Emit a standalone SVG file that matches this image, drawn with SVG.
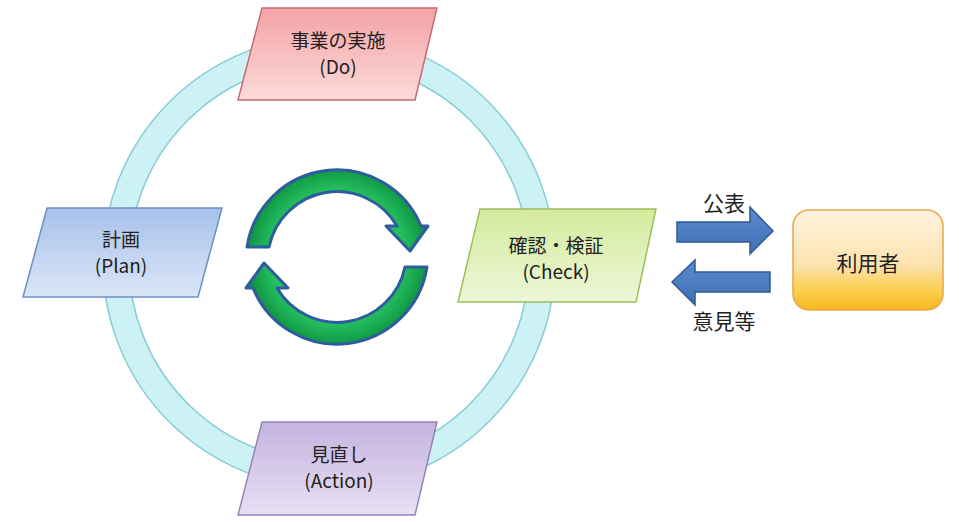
<svg xmlns="http://www.w3.org/2000/svg" width="959" height="522" viewBox="0 0 959 522">
<defs>
<linearGradient id="gDo" x1="0" y1="0" x2="0" y2="1"><stop offset="0" stop-color="#f4a3a6"/><stop offset="1" stop-color="#fcdada"/></linearGradient>
<linearGradient id="gPlan" x1="0" y1="0" x2="0" y2="1"><stop offset="0" stop-color="#a7c1ea"/><stop offset="1" stop-color="#dbe6f7"/></linearGradient>
<linearGradient id="gCheck" x1="0" y1="0" x2="0" y2="1"><stop offset="0" stop-color="#d3ea9c"/><stop offset="1" stop-color="#eef7d9"/></linearGradient>
<linearGradient id="gAct" x1="0" y1="0" x2="0" y2="1"><stop offset="0" stop-color="#c4b3df"/><stop offset="1" stop-color="#e8e0f3"/></linearGradient>
<linearGradient id="gUser" x1="0" y1="0" x2="0" y2="1"><stop offset="0" stop-color="#fff3e0"/><stop offset="0.55" stop-color="#fde2b0"/><stop offset="0.8" stop-color="#fbcf4e"/><stop offset="1" stop-color="#f8b820"/></linearGradient>
<linearGradient id="gBlue" x1="0" y1="0" x2="0" y2="1"><stop offset="0" stop-color="#5b8bd0"/><stop offset="1" stop-color="#3f6fb3"/></linearGradient>
<radialGradient id="gGreen" cx="337" cy="257" r="95" gradientUnits="userSpaceOnUse"><stop offset="0.7" stop-color="#25c060"/><stop offset="1" stop-color="#0a8a3c"/></radialGradient>
<style>
.ring{fill:none;stroke:#cdf2f6;stroke-width:26}
.ringEdge{fill:none;stroke:#86cdd6;stroke-width:1.5}
.box{stroke-width:1.5}
.t{font-family:"Noto Sans CJK JP","Noto Sans",sans-serif;font-size:19px;fill:#222;text-anchor:middle}
.tb{font-family:"Noto Sans CJK JP","Noto Sans",sans-serif;font-size:21px;fill:#222;text-anchor:middle}
.cyc{fill:url(#gGreen);stroke:#2e5c9e;stroke-width:3;stroke-linejoin:round}
.barr{fill:url(#gBlue);stroke:#2f5a92;stroke-width:1.5;stroke-linejoin:miter}
</style>
</defs>
<rect width="959" height="522" fill="#ffffff"/>
<g id="ring">
<circle class="ring" cx="329" cy="262" r="213"/>
<circle class="ringEdge" cx="329" cy="262" r="226"/>
<circle class="ringEdge" cx="329" cy="262" r="200"/>
</g>
<g id="cycle-arrows">
<path class="cyc" d="M247,247 A91,91 0 0 1 421,226 L428,226 L410,251 L386,226 L397,226 A69.5,69.5 0 0 0 269,247 Z"/>
<path class="cyc" transform="rotate(180 337 257)" d="M247,247 A91,91 0 0 1 421,226 L428,226 L410,251 L386,226 L397,226 A69.5,69.5 0 0 0 269,247 Z"/>
</g>
<g id="do">
<polygon class="box" points="262,8 437,8 415,100 238,100" fill="url(#gDo)" stroke="#c46e72"/>
<text class="t" x="338" y="48">事業の実施</text>
<text class="t" x="338" y="74">(Do)</text>
</g>
<g id="plan">
<polygon class="box" points="47,208 222,208 198,297 23,297" fill="url(#gPlan)" stroke="#6c8fc6"/>
<text class="t" x="121" y="247">計画</text>
<text class="t" x="121" y="273">(Plan)</text>
</g>
<g id="check">
<polygon class="box" points="480,209 656,209 636,302 458,302" fill="url(#gCheck)" stroke="#9cbf5c"/>
<text class="t" x="556" y="253">確認・検証</text>
<text class="t" x="556" y="279">(Check)</text>
</g>
<g id="action">
<polygon class="box" points="262,422 437,422 415,515 238,515" fill="url(#gAct)" stroke="#9583b9"/>
<text class="t" x="339" y="462">見直し</text>
<text class="t" x="339" y="488">(Action)</text>
</g>
<g id="user">
<rect x="793" y="210" width="150" height="100" rx="16" fill="url(#gUser)" stroke="#e9a54a" stroke-width="1.5"/>
<text class="tb" x="868" y="271">利用者</text>
</g>
<g id="connectors">
<polygon class="barr" points="677,222 750,222 750,207 773,231 750,254 750,242 677,242"/>
<polygon class="barr" points="770,272 695,272 695,260 672,282 695,305 695,292 770,292"/>
<text class="tb" x="724" y="211">公表</text>
<text class="tb" x="724" y="329">意見等</text>
</g>
</svg>
